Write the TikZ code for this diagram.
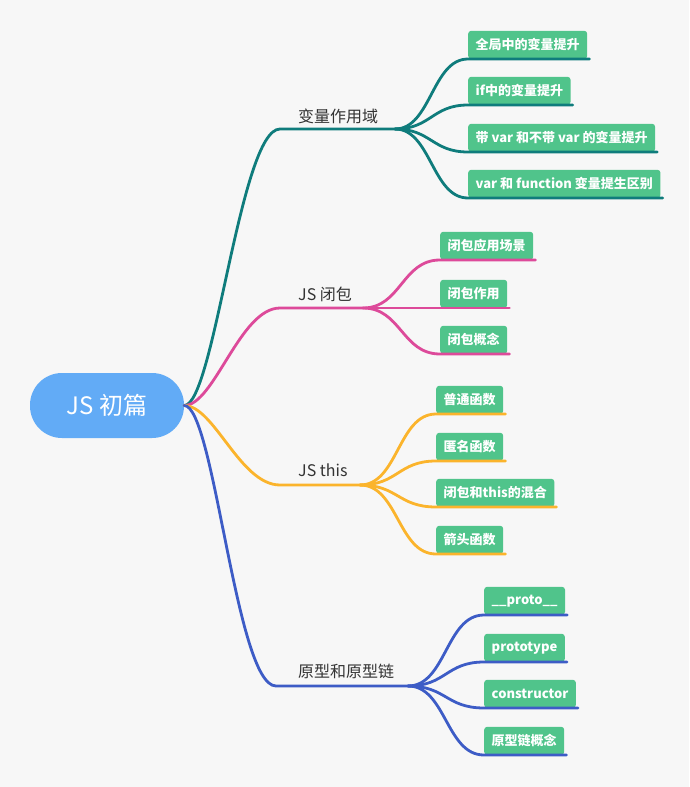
\documentclass[tikz,border=0pt]{standalone}
\usepackage{fontspec}
\setmainfont{Noto Sans CJK SC}
\usetikzlibrary{calc}
\definecolor{MapBg}{HTML}{F7F7F7}
\definecolor{MapRoot}{HTML}{62ABF6}
\definecolor{MapTeal}{HTML}{0F7C7C}
\definecolor{MapPink}{HTML}{DD4A9A}
\definecolor{MapOrange}{HTML}{FBB42C}
\definecolor{MapBlue}{HTML}{3D5CC6}
\definecolor{MapLeaf}{HTML}{50C48B}
\definecolor{MapText}{HTML}{333333}
\tikzset{
  rootpill/.style={fill=MapRoot,rounded corners=32pt,minimum width=154pt,
    minimum height=65pt,inner sep=0pt,text=white,
    font=\fontsize{24}{28}\selectfont},
  topic/.style={anchor=west,inner sep=0pt,text=MapText,
    font=\fontsize{16}{18}\selectfont},
  leaf/.style={anchor=south west,fill=MapLeaf,rounded corners=3pt,
    text=white,minimum height=28pt,inner xsep=7.5pt,inner ysep=0pt,
    font=\fontsize{13}{15}\selectfont\bfseries},
  limb/.style={line width=2.8pt,line cap=round}
}

\begin{document}
\begin{tikzpicture}[x=1pt,y=-1pt]
        \useasboundingbox (0,0) rectangle (689,787);
        \fill[MapBg] (0,0) rectangle (689,787);

        \node[rootpill] (root) at (107,405.5) {JS 初篇};

        % branch points
        \coordinate (h1) at (280,129);  \coordinate (f1) at (395,129);
        \coordinate (h2) at (280,308);  \coordinate (f2) at (363,308);
        \coordinate (h3) at (280,485);  \coordinate (f3) at (360,485);
        \coordinate (h4) at (276,686);  \coordinate (f4) at (408,686);

        \node[topic] (scope) at (298,116) {变量作用域};
        \node[topic] (closure) at (298,294) {JS 闭包};
        \node[topic] (this) at (298,470) {JS this};
        \node[topic] (proto) at (298,671) {原型和原型链};

        \foreach \h/\f/\col in {h1/f1/MapTeal,h2/f2/MapPink,
          h3/f3/MapOrange,h4/f4/MapBlue}{
          \draw[limb,\col] (root.east) .. controls +(30,0) and +(-40,0) .. (\h) -- (\f);
        }

        \foreach \i/\yy/\txt in {1/59/全局中的变量提升,2/105/if中的变量提升,
          3/152/带 var 和不带 var 的变量提升,4/198/var 和 function 变量提生区别}{
          \node[leaf] (scope\i) at (468,\yy) {\txt};
          \draw[limb,MapTeal] (f1) .. controls +(36,0) and +(-36,0) .. (scope\i.south west)
            -- ($(scope\i.south east)+(2,0)$);
        }

        \foreach \i/\yy/\txt in {1/260/闭包应用场景,2/308/闭包作用,3/354/闭包概念}{
          \node[leaf] (closure\i) at (440,\yy) {\txt};
          \draw[limb,MapPink] (f2) .. controls +(38,0) and +(-38,0) .. (closure\i.south west)
            -- ($(closure\i.south east)+(2,0)$);
        }

        \foreach \i/\yy/\txt in {1/414/普通函数,2/461/匿名函数,
          3/507/闭包和this的混合,4/554/箭头函数}{
          \node[leaf] (this\i) at (436,\yy) {\txt};
          \draw[limb,MapOrange] (f3) .. controls +(38,0) and +(-38,0) .. (this\i.south west)
            -- ($(this\i.south east)+(2,0)$);
        }

        \foreach \i/\yy/\txt in {1/615/\_\_proto\_\_,2/662/prototype,
          3/708/constructor,4/755/原型链概念}{
          \node[leaf] (proto\i) at (484,\yy) {\txt};
          \draw[limb,MapBlue] (f4) .. controls +(38,0) and +(-38,0) .. (proto\i.south west)
            -- ($(proto\i.south east)+(2,0)$);
        }
      \end{tikzpicture}
\end{document}
